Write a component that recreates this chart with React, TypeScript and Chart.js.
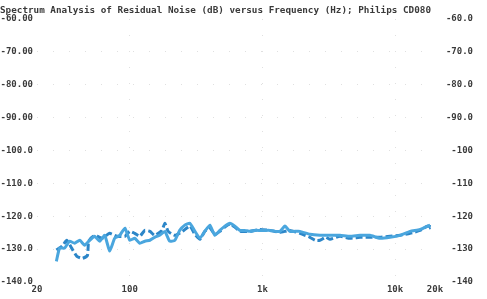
import React, { useEffect, useRef } from "react";
import { Chart, registerables } from "chart.js";

Chart.register(...registerables);

const TITLE = "Spectrum Analysis of Residual Noise (dB) versus Frequency (Hz); Philips CD080";

const xTickValues = [20, 100, 1000, 10000, 20000];
const xTickLabels = ["20", "100", "1k", "10k", "20k"];
const yTickValues = [-60, -70, -80, -90, -100, -110, -120, -130, -140];
const yLeftLabels = ["-60.00", "-70.00", "-80.00", "-90.00", "-100.0", "-110.0", "-120.0", "-130.0", "-140.0"];
const yRightLabels = ["-60.0", "-70.0", "-80.0", "-90.0", "-100", "-110", "-120", "-130", "-140"];

const solidFreq = [
  28, 29.6, 32.3, 35.2, 38.4, 42, 45.7, 49.9, 54.4, 59.4, 64.8, 70.6, 77, 84, 92, 100, 109, 119, 130, 142,
  154, 168, 184, 200, 219, 238, 260, 284, 310, 338, 368, 402, 438, 478, 521, 569, 620, 676, 738, 805,
  878, 958, 1045, 1140, 1243, 1356, 1479, 1614, 1760, 1920, 2282, 2716, 3230, 3843, 4571, 5440, 6470,
  7700, 9160, 10900, 12970, 15430, 18370,
];
const solidDb = [
  -133.7, -129.7, -129.7, -127.6, -128.2, -127.3, -128.8, -127.3, -126.1, -127.6, -125.8, -130.6, -126.7,
  -125.8, -123.6, -127.3, -126.7, -128.2, -127.6, -127.3, -126.4, -125.8, -124.6, -127.6, -127.3, -124.3,
  -122.7, -122.1, -124.6, -126.7, -124.6, -122.7, -125.8, -124.3, -123.0, -122.1, -123.0, -124.3, -124.3,
  -124.6, -124.3, -124.3, -124.3, -124.3, -124.6, -124.6, -123.0, -124.6, -124.6, -124.6, -125.5, -125.8,
  -125.8, -125.8, -126.1, -125.8, -125.8, -126.7, -126.4, -125.8, -124.6, -124.0, -122.7,
];

const dashedFreq = [
  28, 31, 33.5, 36.5, 40, 44, 48, 49, 53, 57, 62, 70.6, 80, 92, 100, 109, 119, 130, 142, 154, 175, 184,
  195, 219, 250, 284, 310, 338, 368, 402, 438, 478, 521, 569, 620, 676, 805, 958, 1140, 1356, 1614, 1920,
  2282, 2500, 2716, 3000, 3230, 3843, 4571, 5440, 6470, 7700, 9160, 10900, 12970, 15430, 17500, 19000,
  18000,
];
const dashedDb = [
  -130.3, -129.1, -127.3, -129.7, -132.2, -132.8, -131.9, -127.6, -126.1, -126.1, -126.7, -125.2, -126.1,
  -126.1, -124.6, -125.2, -126.1, -124.3, -124.6, -125.8, -124.3, -122.1, -124.6, -125.8, -124.6, -123.0,
  -125.5, -127.0, -124.6, -123.6, -125.5, -124.6, -123.3, -122.4, -123.3, -124.6, -124.6, -124.0, -124.3,
  -124.9, -124.3, -125.2, -126.4, -127.3, -127.3, -126.4, -127.0, -126.1, -126.7, -126.4, -126.4, -126.4,
  -126.1, -125.8, -125.2, -124.3, -123.0, -123.3, -123.6,
];

const FONT = { family: "'DejaVu Sans Mono', monospace", size: 9, weight: "bold" as const };
const TEXT_COLOR = "#3a3a3a";

const titlePlugin = {
  id: "scanTitle",
  afterDraw(chart: Chart) {
    const ctx = chart.ctx;
    ctx.save();
    ctx.font = "bold 9.3px 'DejaVu Sans Mono', monospace";
    ctx.fillStyle = TEXT_COLOR;
    ctx.textAlign = "left";
    ctx.textBaseline = "middle";
    ctx.fillText(TITLE, 0, 11);
    ctx.restore();
  },
};

export default function App() {
  const ref = useRef<HTMLCanvasElement | null>(null);

  useEffect(() => {
    if (!ref.current) return;
    const chart = new Chart(ref.current, {
      type: "line",
      data: {
        datasets: [
          {
            label: "solid",
            data: solidFreq.map((f, i) => ({ x: f, y: solidDb[i] })),
            borderColor: "rgb(74,166,222)",
            borderWidth: 3,
            pointRadius: 0,
            tension: 0.15,
            fill: false,
            yAxisID: "y",
          },
          {
            label: "dashed",
            data: dashedFreq.map((f, i) => ({ x: f, y: dashedDb[i] })),
            borderColor: "rgb(44,134,200)",
            borderWidth: 3,
            borderDash: [7, 3],
            pointRadius: 0,
            tension: 0.15,
            fill: false,
            yAxisID: "y",
          },
        ],
      },
      options: {
        animation: false,
        responsive: false,
        maintainAspectRatio: false,
        layout: { padding: { top: 19, right: 14, left: 0, bottom: 0 } },
        plugins: { legend: { display: false }, tooltip: { enabled: false }, title: { display: false } },
        scales: {
          x: {
            type: "logarithmic",
            min: 20,
            max: 20000,
            afterBuildTicks: (scale: any) => {
              scale.ticks = xTickValues.map((v) => ({ value: v }));
            },
            afterFit: (scale: any) => {
              scale.height = 17;
            },
            ticks: {
              autoSkip: false,
              maxRotation: 0,
              padding: 2,
              font: FONT,
              color: TEXT_COLOR,
              callback: (value: any) => {
                const i = xTickValues.indexOf(Number(value));
                return i >= 0 ? xTickLabels[i] : "";
              },
            },
            grid: {
              drawTicks: false,
              lineWidth: 1,
              color: (c: any) =>
                c.tick && (c.tick.value === 20 || c.tick.value === 20000) ? "rgba(0,0,0,0)" : "rgba(0,0,0,0.12)",
            },
            border: { display: false, dash: [1, 15] },
          },
          y: {
            type: "linear",
            position: "left",
            min: -140,
            max: -60,
            afterBuildTicks: (scale: any) => {
              scale.ticks = yTickValues.map((v) => ({ value: v }));
            },
            afterFit: (scale: any) => {
              scale.width = 37;
            },
            ticks: {
              autoSkip: false,
              padding: 4,
              font: FONT,
              color: TEXT_COLOR,
              callback: (value: any) => {
                const i = yTickValues.indexOf(Number(value));
                return i >= 0 ? yLeftLabels[i] : "";
              },
            },
            grid: {
              drawTicks: false,
              lineWidth: 1,
              color: (c: any) =>
                c.tick && (c.tick.value === -60 || c.tick.value === -140) ? "rgba(0,0,0,0)" : "rgba(0,0,0,0.12)",
            },
            border: { display: false, dash: [1, 15] },
          },
          y2: {
            type: "linear",
            position: "right",
            min: -140,
            max: -60,
            afterBuildTicks: (scale: any) => {
              scale.ticks = yTickValues.map((v) => ({ value: v }));
            },
            afterFit: (scale: any) => {
              scale.width = 38;
            },
            ticks: {
              autoSkip: false,
              padding: 4,
              crossAlign: "far",
              font: FONT,
              color: TEXT_COLOR,
              callback: (value: any) => {
                const i = yTickValues.indexOf(Number(value));
                return i >= 0 ? yRightLabels[i] : "";
              },
            },
            grid: { display: false, drawTicks: false },
            border: { display: false },
          },
        },
      },
      plugins: [titlePlugin],
    } as any);
    return () => chart.destroy();
  }, []);

  return (
    <div style={{ position: "fixed", left: 0, top: 0, width: 487, height: 299, background: "#fff" }}>
      <canvas ref={ref} width={487} height={299} style={{ width: 487, height: 299, display: "block" }} />
    </div>
  );
}
